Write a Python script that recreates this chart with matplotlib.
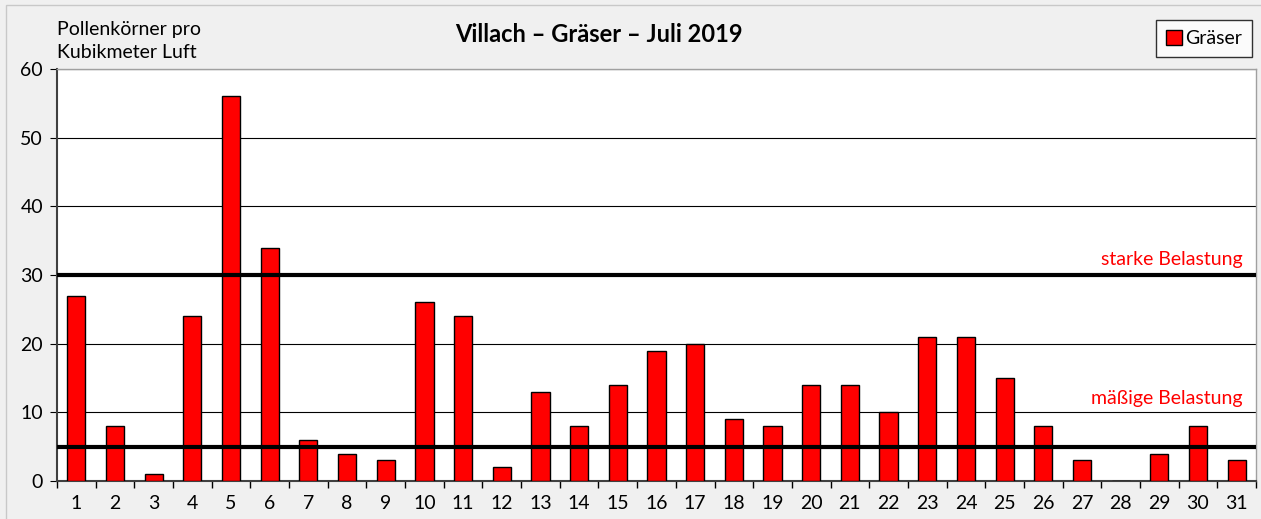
import matplotlib.pyplot as plt
from matplotlib.patches import Rectangle
import numpy as np

days = [str(d) for d in range(1, 32)]
graeser = [27, 8, 1, 24, 56, 34, 6, 4, 3, 26, 24, 2, 13, 8, 14, 19, 20, 9, 8, 14,
           14, 10, 21, 21, 15, 8, 3, 0, 4, 8, 3]
yticks = [0, 10, 20, 30, 40, 50, 60]
starke = 30
maessige = 5

plt.rcParams['font.family'] = ['Lato', 'DejaVu Sans']
fs = 14

fig = plt.figure(figsize=(12.61, 5.19), dpi=100, facecolor='#f0f0f0')
fig.patches.append(Rectangle((6 / 1261, -0.1), 1.2, (519 - 5) / 519 + 0.1,
                             transform=fig.transFigure, fill=False,
                             edgecolor='#c8c8c8', lw=1))
ax = fig.add_axes([57 / 1261, 38 / 519, 1199 / 1261, 412 / 519])

x = np.arange(len(days))
ax.bar(x, graeser, width=0.47, color='#ff0000', edgecolor='black', lw=1,
       label='Gräser', zorder=3)
for v in yticks[1:]:
    ax.axhline(v, color='black', lw=0.8, zorder=1)
ax.axhline(starke, color='black', lw=3, zorder=4)
ax.axhline(maessige, color='black', lw=3, zorder=4)

ax.text(len(days) - 0.85, starke + 1, 'starke Belastung', color='#ff0000',
        ha='right', va='bottom', fontsize=fs)
ax.text(len(days) - 0.85, 10.8, 'mäßige Belastung', color='#ff0000',
        ha='right', va='bottom', fontsize=fs)

ax.set_xlim(-0.5, len(days) - 0.5)
ax.set_ylim(0, 60)
ax.set_yticks(yticks)
ax.set_xticks(x)
ax.set_xticklabels(days)
ax.set_xticks(np.arange(len(days) + 1) - 0.5, minor=True)
ax.tick_params(axis='x', which='major', length=0, labelsize=fs, pad=10)
ax.tick_params(axis='x', which='minor', length=5, width=1)
ax.tick_params(axis='y', length=5, labelsize=fs, pad=5)

for s in ['top', 'right']:
    ax.spines[s].set_color('#a0a0a0')
    ax.spines[s].set_linewidth(1)
for s in ['left', 'bottom']:
    ax.spines[s].set_color('#404040')
    ax.spines[s].set_linewidth(1.5)

fig.text(57 / 1261, (519 - 41) / 519, 'Pollenkörner pro\nKubikmeter Luft',
         ha='left', va='center', fontsize=fs, linespacing=1.5)
fig.text(599 / 1261, (519 - 35) / 519, 'Villach – Gräser – Juli 2019',
         ha='center', va='center', fontsize=17, fontweight='bold')

leg = fig.legend(loc='upper right', bbox_to_anchor=(1252 / 1261, (519 - 20) / 519),
                 fontsize=fs, frameon=True, fancybox=False, handlelength=0.8,
                 handleheight=0.8, handletextpad=0.2, borderpad=0.5,
                 borderaxespad=0)
leg.get_frame().set_edgecolor('black')
leg.get_frame().set_linewidth(1)

fig.savefig('out.png', dpi=100, facecolor=fig.get_facecolor())
